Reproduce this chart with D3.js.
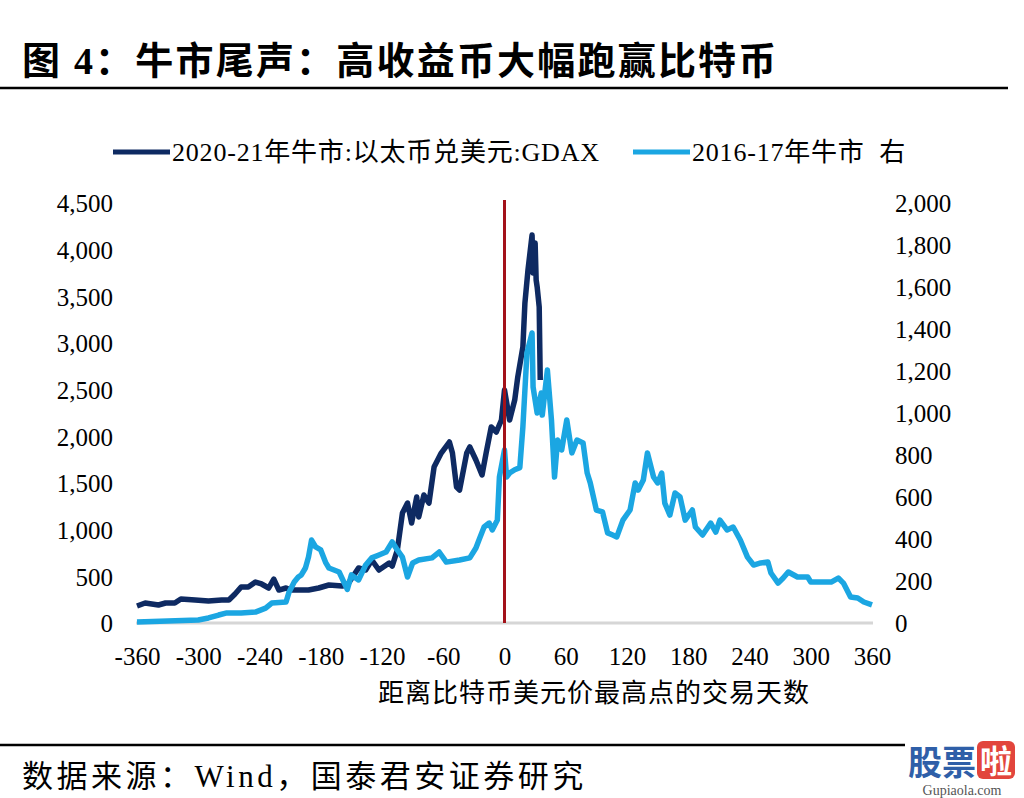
<!DOCTYPE html>
<html><head><meta charset="utf-8">
<script src="https://cdn.jsdelivr.net/npm/d3@7/dist/d3.min.js"></script>
<style>
html,body{margin:0;padding:0;background:#fff;}
text{font-family:"Liberation Serif","Noto Sans CJK SC",serif;}
</style></head>
<body>
<svg id="c" width="1024" height="798"></svg>
<script>
// ---- data ----
const title = "图 4：牛市尾声：高收益币大幅跑赢比特币";
const seriesNames = ["2020-21年牛市:以太币兑美元:GDAX", "2016-17年牛市\u00a0\u00a0右"];
const xTicks = [-360,-300,-240,-180,-120,-60,0,60,120,180,240,300,360];
const yLeftTicks = [0,500,1000,1500,2000,2500,3000,3500,4000,4500];
const yRightTicks = [0,200,400,600,800,1000,1200,1400,1600,1800,2000];
const xTitle = "距离比特币美元价最高点的交易天数";
const source = "数据来源：Wind，国泰君安证券研究";

// 2020-21 ETH (left axis): [day, value]
const ethDays = [-360,-352,-339,-332,-323,-317,-303,-290,-277,-270,-264,-258,-251,-244,-238,-231,-226,-221,-214,-209,-202,-192,-182,-172,-159,-154,-143,-136,-130,-123,-113,-110,-105,-100,-95,-91,-86,-84,-79,-74,-69,-62,-54,-51,-47,-44,-37,-34,-28,-22,-18,-13,-8,-3,0,5,10,13,18,20,23,27,28,30,31,32,34,35];
const ethVals = [182,214,193,214,214,257,246,235,246,246,311,386,386,439,418,375,471,353,375,353,353,353,375,407,396,407,589,568,675,568,643,610,782,1178,1285,1071,1350,1136,1371,1285,1671,1821,1939,1821,1457,1425,1821,1886,1746,1586,1821,2100,2046,2175,2496,2175,2389,2636,2957,3429,3782,4157,3750,4071,3675,3600,3386,2604];

// 2016-17 BTC (right axis): [day, value]
const btcDays = [-360,-300,-290,-280,-272,-258,-244,-234,-228,-214,-211,-206,-202,-199,-195,-192,-189,-185,-180,-175,-172,-162,-154,-150,-143,-136,-130,-123,-116,-110,-105,-100,-95,-90,-84,-71,-64,-57,-44,-34,-28,-25,-20,-15,-12,-7,-5,0,2,5,10,15,18,22,27,28,32,36,37,42,46,49,52,56,61,66,71,77,81,84,90,96,101,106,110,116,123,128,131,136,140,146,150,154,157,162,167,172,177,184,187,194,202,207,211,218,224,231,238,244,251,258,261,268,273,278,287,297,300,320,327,332,339,346,352,360];
const btcVals = [5,14,24,38,48,48,52,71,95,100,148,195,219,229,262,314,395,362,348,286,262,243,160,229,205,276,310,324,338,386,348,314,219,286,300,310,338,290,300,310,357,395,457,476,443,490,695,824,695,714,730,740,933,1286,1381,1124,1000,1095,990,1205,967,695,871,824,967,810,871,857,714,667,538,529,429,419,410,490,538,667,633,681,810,695,667,714,571,514,619,600,490,538,457,419,476,433,490,443,457,395,314,276,286,290,238,190,214,243,219,219,195,195,214,190,124,119,100,86];

const ethData = ethDays.map((d,i)=>[d, ethVals[i]]);
const btcData = btcDays.map((d,i)=>[d, btcVals[i]]);

const colDark = "#0e2a62", colLight = "#1ba6e2", colRed = "#a3121a";

const svg = d3.select("#c");
svg.append("rect").attr("width",1024).attr("height",798).attr("fill","#fff");

// title
svg.append("text").attr("x",22).attr("y",74).attr("font-size",38).attr("font-weight","bold")
  .attr("letter-spacing",2.2).text(title);
svg.append("line").attr("x1",0).attr("x2",1008).attr("y1",88).attr("y2",88)
  .attr("stroke","#000").attr("stroke-width",2.5);

// scales
const x = d3.scaleLinear().domain([-360,360]).range([137,872]);
const yL = d3.scaleLinear().domain([0,4500]).range([623,203]);
const yR = d3.scaleLinear().domain([0,2000]).range([623,203]);

// baseline
svg.append("line").attr("x1",136).attr("x2",873).attr("y1",623).attr("y2",623)
  .attr("stroke","#d6d6d6").attr("stroke-width",3);

// axes
const fmt = d3.format(",");
const gL = svg.append("g").attr("transform","translate(116,0)")
  .call(d3.axisLeft(yL).tickValues(yLeftTicks).tickSize(0).tickPadding(3).tickFormat(fmt));
const gR = svg.append("g").attr("transform","translate(892,0)")
  .call(d3.axisRight(yR).tickValues(yRightTicks).tickSize(0).tickPadding(3).tickFormat(fmt));
const gX = svg.append("g").attr("transform","translate(0,623)")
  .call(d3.axisBottom(x).tickValues(xTicks).tickSize(0).tickPadding(24).tickFormat(d=>String(d)));
[gL,gR,gX].forEach(g=>{
  g.select(".domain").remove();
  g.selectAll("text").attr("font-size",25).attr("fill","#000")
   .attr("font-family",'"Liberation Serif",serif');
});
gL.selectAll("text").attr("dy","0.35em");
gR.selectAll("text").attr("dy","0.35em");

// lines
const lineL = d3.line().x(d=>x(d[0])).y(d=>yL(d[1]));
const lineR = d3.line().x(d=>x(d[0])).y(d=>yR(d[1]));
svg.append("path").datum(ethData).attr("d",lineL).attr("fill","none")
  .attr("stroke",colDark).attr("stroke-width",5.5).attr("stroke-linejoin","round");
svg.append("path").datum(btcData).attr("d",lineR).attr("fill","none")
  .attr("stroke",colLight).attr("stroke-width",5.5).attr("stroke-linejoin","round");

// red vertical line at day 0
svg.append("line").attr("x1",x(0)).attr("x2",x(0)).attr("y1",200).attr("y2",yL(0))
  .attr("stroke",colRed).attr("stroke-width",3);

// legend
const leg = [[113, colDark, seriesNames[0]],[633, colLight, seriesNames[1]]];
leg.forEach(([lx,c,t])=>{
  svg.append("line").attr("x1",lx).attr("x2",lx+57).attr("y1",152).attr("y2",152)
    .attr("stroke",c).attr("stroke-width",5);
  svg.append("text").attr("x",lx+59).attr("y",161).attr("font-size",26).attr("letter-spacing",0.8).text(t);
});

// x title
svg.append("text").attr("x",594).attr("y",702).attr("text-anchor","middle")
  .attr("font-size",26).attr("letter-spacing",1).text(xTitle);

// footer
svg.append("line").attr("x1",0).attr("x2",905).attr("y1",745).attr("y2",745)
  .attr("stroke","#000").attr("stroke-width",2.5);
svg.append("text").attr("x",22).attr("y",787).attr("font-size",31).attr("letter-spacing",3.5).text(source);

// watermark
svg.append("text").attr("x",908).attr("y",775).attr("font-size",34).attr("font-weight","bold")
  .attr("fill","#2f5fa8").attr("font-family",'"Noto Sans CJK SC"').text("股票");
svg.append("rect").attr("x",977).attr("y",741).attr("width",38).attr("height",38).attr("rx",6)
  .attr("fill","#e2453c");
svg.append("text").attr("x",996).attr("y",773).attr("text-anchor","middle").attr("font-size",32)
  .attr("font-weight","bold").attr("fill","#fff").attr("font-family",'"Noto Sans CJK SC"').text("啦");
svg.append("text").attr("x",962).attr("y",795).attr("text-anchor","middle").attr("font-size",14)
  .attr("fill","#555").attr("font-family",'"Liberation Sans Narrow","Liberation Sans",sans-serif').text("Gupiaola.com");
</script>
</body></html>
